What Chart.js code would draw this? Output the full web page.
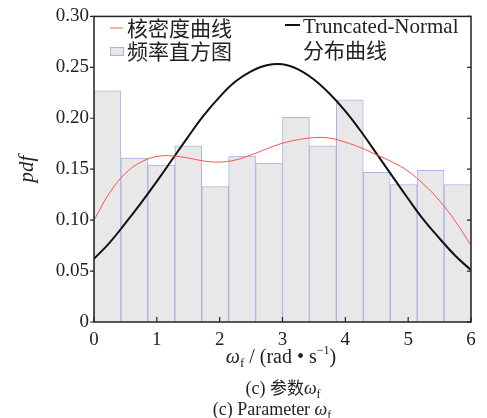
<!DOCTYPE html>
<html>
<head>
<meta charset="utf-8">
<script src="https://cdn.jsdelivr.net/npm/chart.js@4.4.1/dist/chart.umd.min.js"></script>
<style>
  html, body { margin: 0; padding: 0; background: #fff; }
</style>
</head>
<body>
<canvas id="pdfChart" width="487" height="418"></canvas>
<script>
// histogram: 14 bins over 0..6 rad/s (bin centres) and their frequency densities
const binCentres = [0.214, 0.643, 1.071, 1.500, 1.929, 2.357, 2.786, 3.214, 3.643, 4.071, 4.500, 4.929, 5.357, 5.786];
const binHeights = [0.227, 0.161, 0.154, 0.173, 0.133, 0.163, 0.156, 0.201, 0.173, 0.218, 0.147, 0.135, 0.149, 0.135];

// sample points
const curveX = [0, 0.25, 0.5, 0.75, 1, 1.25, 1.5, 1.75, 2, 2.25, 2.5, 2.75, 3, 3.25, 3.5, 3.75, 4, 4.25, 4.5, 4.75, 5, 5.25, 5.5, 5.75, 6];
const kdeValues = [0.100, 0.127, 0.146, 0.157, 0.1625, 0.163, 0.161, 0.158, 0.157, 0.159, 0.164, 0.170, 0.1755, 0.179, 0.181, 0.1805, 0.1765, 0.171, 0.164, 0.157, 0.148, 0.135, 0.119, 0.099, 0.075];
const truncNormValues = [0.062, 0.078, 0.097, 0.117, 0.138, 0.160, 0.182, 0.203, 0.221, 0.236, 0.246, 0.252, 0.253, 0.248, 0.238, 0.224, 0.207, 0.187, 0.165, 0.143, 0.121, 0.100, 0.082, 0.065, 0.051];

const yTicks = [0, 0.05, 0.10, 0.15, 0.20, 0.25, 0.30];
const xTicks = [0, 1, 2, 3, 4, 5, 6];
const legendLabels = ['核密度曲线', '频率直方图', 'Truncated-Normal', '分布曲线'];

const serif = '"Liberation Serif", "Times New Roman", serif';
const cjk = '"Noto Sans CJK SC", sans-serif';
const ink = '#222';

// draw a row of differently styled text pieces centred on cx
function drawRuns(ctx, runs, cx, baseline) {
  let total = 0;
  runs.forEach(r => { ctx.font = r.font; r.w = ctx.measureText(r.text).width; total += r.w; });
  let x = cx - total / 2;
  runs.forEach(r => {
    ctx.font = r.font;
    ctx.fillText(r.text, x, baseline + (r.dy || 0));
    x += r.w;
  });
}

const decorPlugin = {
  id: 'decor',
  afterDraw(chart) {
    const ctx = chart.ctx;
    const area = chart.chartArea;
    const xs = chart.scales.x;
    const ys = chart.scales.y;
    ctx.save();

    // frame
    ctx.strokeStyle = ink;
    ctx.lineWidth = 1.5;
    ctx.strokeRect(area.left, area.top, area.right - area.left, area.bottom - area.top);

    // tick marks: y outward on the left, inward on the right; x inward at the bottom
    ctx.lineWidth = 1.2;
    ctx.beginPath();
    yTicks.forEach(v => {
      const py = ys.getPixelForValue(v);
      ctx.moveTo(area.left - 4, py); ctx.lineTo(area.left, py);
      ctx.moveTo(area.right, py); ctx.lineTo(area.right - 4, py);
    });
    xTicks.forEach(v => {
      const px = xs.getPixelForValue(v);
      ctx.moveTo(px, area.bottom); ctx.lineTo(px, area.bottom - 5);
    });
    ctx.stroke();

    ctx.fillStyle = ink;
    ctx.textBaseline = 'alphabetic';

    // y axis title
    ctx.save();
    ctx.translate(33, (area.top + area.bottom) / 2);
    ctx.rotate(-Math.PI / 2);
    ctx.textAlign = 'center';
    ctx.font = 'italic 21px ' + serif;
    ctx.fillText('pdf', 0, 0);
    ctx.restore();

    ctx.textAlign = 'left';
    // x axis title
    drawRuns(ctx, [
      { text: 'ω', font: 'italic 20px ' + serif },
      { text: 'f', font: '13px ' + serif, dy: 4 },
      { text: ' / (rad • s', font: '20px ' + serif },
      { text: '−1', font: '12px ' + serif, dy: -9 },
      { text: ')', font: '20px ' + serif }
    ], 281, 363);

    // captions
    drawRuns(ctx, [
      { text: '(c) ', font: '18px ' + serif },
      { text: '参数', font: '17px ' + cjk },
      { text: 'ω', font: 'italic 18px ' + serif },
      { text: 'f', font: '12px ' + serif, dy: 4 }
    ], 283, 394);
    drawRuns(ctx, [
      { text: '(c) Parameter ', font: '18px ' + serif },
      { text: 'ω', font: 'italic 18px ' + serif },
      { text: 'f', font: '12px ' + serif, dy: 4 }
    ], 272, 415);

    // legend, left block
    ctx.strokeStyle = '#ff5a5a';
    ctx.lineWidth = 1;
    ctx.beginPath(); ctx.moveTo(110, 28); ctx.lineTo(123, 28); ctx.stroke();
    ctx.fillStyle = '#e8e8e8';
    ctx.fillRect(110, 47, 13, 8);
    ctx.strokeStyle = '#aab4e0';
    ctx.strokeRect(110.5, 47.5, 13, 8);
    ctx.fillStyle = ink;
    ctx.textBaseline = 'middle';
    ctx.font = '21px ' + cjk;
    ctx.fillText(legendLabels[0], 127, 28);
    ctx.fillText(legendLabels[1], 127, 51);

    // legend, right block
    ctx.strokeStyle = '#111';
    ctx.lineWidth = 2;
    ctx.beginPath(); ctx.moveTo(285, 25); ctx.lineTo(300, 25); ctx.stroke();
    ctx.textBaseline = 'alphabetic';
    ctx.font = '21px ' + serif;
    ctx.fillText(legendLabels[2], 303, 33);
    ctx.textBaseline = 'middle';
    ctx.font = '21px ' + cjk;
    ctx.fillText(legendLabels[3], 303, 50);

    ctx.restore();
  }
};

const histData = binCentres.map((x, i) => ({ x: x, y: binHeights[i] }));
const kdeData = curveX.map((x, i) => ({ x: x, y: kdeValues[i] }));
const tnData = curveX.map((x, i) => ({ x: x, y: truncNormValues[i] }));

new Chart(document.getElementById('pdfChart'), {
  type: 'bar',
  data: {
    datasets: [{
      type: 'line',
      label: legendLabels[0],
      data: kdeData,
      borderColor: '#ff5050',
      borderWidth: 1,
      pointRadius: 0,
      tension: 0.4,
      order: 1
    }, {
      type: 'line',
      label: legendLabels[2] + legendLabels[3],
      data: tnData,
      borderColor: '#111',
      borderWidth: 2,
      pointRadius: 0,
      tension: 0.4,
      order: 2
    }, {
      type: 'bar',
      label: legendLabels[1],
      data: histData,
      backgroundColor: '#e8e8e8',
      borderColor: '#aab4e0',
      borderWidth: 1,
      barPercentage: 1,
      categoryPercentage: 1,
      order: 3
    }]
  },
  options: {
    responsive: false,
    animation: false,
    devicePixelRatio: 1,
    layout: { padding: { top: 10, right: 16, left: 0, bottom: 0 } },
    plugins: {
      legend: { display: false },
      tooltip: { enabled: false }
    },
    scales: {
      x: {
        type: 'linear',
        min: 0,
        max: 6,
        offset: false,
        afterFit: s => { s.height = 96; },
        afterBuildTicks: s => { s.ticks = xTicks.map(v => ({ value: v })); },
        grid: { display: false, drawTicks: false },
        border: { display: false },
        ticks: {
          padding: 7,
          color: ink,
          font: { family: serif, size: 19 },
          maxRotation: 0
        }
      },
      y: {
        min: 0,
        max: 0.3,
        afterFit: s => { s.width = 94; },
        afterBuildTicks: s => { s.ticks = yTicks.map(v => ({ value: v })); },
        grid: { display: false, drawTicks: false },
        border: { display: false },
        ticks: {
          padding: 5,
          color: ink,
          font: { family: serif, size: 19 },
          callback: v => (v === 0 ? '0' : v.toFixed(2))
        }
      }
    }
  },
  plugins: [decorPlugin]
});
</script>
</body>
</html>
